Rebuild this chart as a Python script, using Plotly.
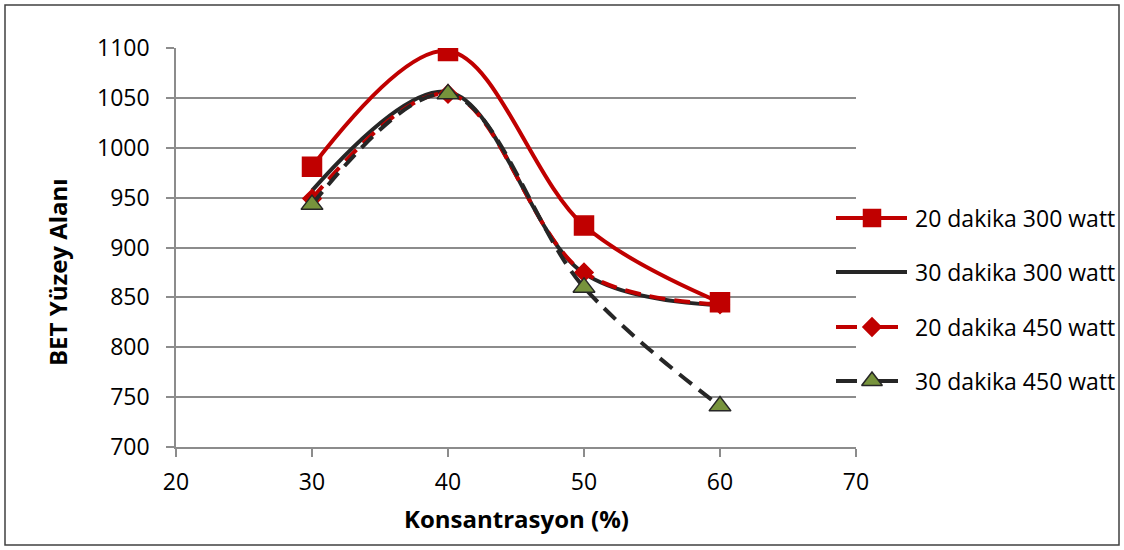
import plotly.graph_objects as go

# Concentration (%) on the x axis
konsantrasyon = [30, 40, 50, 60]

# BET surface area for each treatment
seri_20dk_300w = [981, 1097, 922, 845]
seri_30dk_300w = [957, 1056, 874, 842]
seri_20dk_450w = [949, 1054, 875, 843]
seri_30dk_450w = [943, 1054, 860, 741]

series_names = ["20 dakika 300 watt", "30 dakika 300 watt",
                "20 dakika 450 watt", "30 dakika 450 watt"]

x_ticks = [20, 30, 40, 50, 60, 70]
y_ticks = [700, 750, 800, 850, 900, 950, 1000, 1050, 1100]

RED = "#C00000"
DARK = "#262626"
GREEN = "#77933C"
GRID = "#8C8C8C"
FONT = "Open Sans"
TXT = 23

W, H = 1124, 550
# plot area in pixels
PL, PR, PT, PB = 176, 856, 48, 447

styles = [
    dict(color=RED, dash="solid", symbol="square", msize=19, lsize=17, mfill=RED, mline=RED),
    dict(color=DARK, dash="solid", symbol=None, msize=0, lsize=0, mfill=None, mline=None),
    dict(color=RED, dash="16px,9px", symbol="diamond", msize=14, lsize=14, mfill=RED, mline=RED),
    dict(color=DARK, dash="16px,9px", symbol="triangle-up", msize=19, lsize=18, mfill=GREEN, mline=DARK),
]
values = [seri_20dk_300w, seri_30dk_300w, seri_20dk_450w, seri_30dk_450w]

fig = go.Figure()

# draw order: solid black first, dashed lines, then the red square series
order = [1, 2, 3, 0]
for i in order:
    st = styles[i]
    trace = dict(
        x=konsantrasyon, y=values[i], name=series_names[i],
        line=dict(color=st["color"], width=4, dash=st["dash"], shape="spline", smoothing=1.0),
        showlegend=False, xaxis="x", yaxis="y",
    )
    if st["symbol"]:
        trace["mode"] = "lines+markers"
        trace["marker"] = dict(symbol=st["symbol"], size=st["msize"], color=st["mfill"],
                               line=dict(color=st["mline"], width=1.5))
    else:
        trace["mode"] = "lines"
    fig.add_trace(go.Scatter(**trace))

# custom legend on a pixel-space overlay axis
LEG_X0, LEG_X1, LEG_MID, LEG_TEXT = 836, 907, 872, 913
leg_y = [218, 272, 327, 381]
for i, st in enumerate(styles):
    yy = leg_y[i]
    if st["dash"] == "solid":
        fig.add_trace(go.Scatter(x=[LEG_X0, LEG_X1], y=[yy, yy], mode="lines",
                                 line=dict(color=st["color"], width=4),
                                 xaxis="x2", yaxis="y2", showlegend=False, hoverinfo="skip"))
    else:
        for seg in ([LEG_X0, 857], [876, 898]):
            fig.add_trace(go.Scatter(x=seg, y=[yy, yy], mode="lines",
                                     line=dict(color=st["color"], width=4),
                                     xaxis="x2", yaxis="y2", showlegend=False, hoverinfo="skip"))
    if st["symbol"]:
        fig.add_trace(go.Scatter(x=[LEG_MID], y=[yy], mode="markers",
                                 marker=dict(symbol=st["symbol"], size=st["lsize"], color=st["mfill"],
                                             line=dict(color=st["mline"], width=1.5)),
                                 xaxis="x2", yaxis="y2", showlegend=False, hoverinfo="skip"))
    fig.add_annotation(x=LEG_TEXT, y=yy, xref="x2", yref="y2", text=series_names[i],
                       showarrow=False, xanchor="left", yanchor="middle",
                       font=dict(family=FONT, size=TXT, color="#000000"))

fig.update_layout(
    template="none",
    width=W, height=H,
    margin=dict(l=0, r=0, t=0, b=0, pad=0, autoexpand=False),
    paper_bgcolor="white", plot_bgcolor="rgba(0,0,0,0)",
    showlegend=False,
    xaxis=dict(
        domain=[PL / W, PR / W], range=[20, 70], tickvals=x_ticks,
        showgrid=False, zeroline=False, automargin=False,
        showline=True, linecolor=GRID, linewidth=1.5,
        ticks="outside", ticklen=8, tickcolor=GRID, tickwidth=1.5,
        ticklabelstandoff=6,
        tickfont=dict(family=FONT, size=TXT, color="#000000"),
        anchor="y",
    ),
    yaxis=dict(
        domain=[1 - PB / H, 1 - PT / H], range=[700, 1100], tickvals=y_ticks,
        showgrid=True, gridcolor=GRID, gridwidth=1.5, zeroline=False, automargin=False,
        showline=True, linecolor=GRID, linewidth=1.5,
        ticks="outside", ticklen=8, tickcolor=GRID, tickwidth=1.5,
        ticklabelstandoff=12,
        tickfont=dict(family=FONT, size=TXT, color="#000000"),
        anchor="x",
    ),
    xaxis2=dict(domain=[0, 1], range=[0, W], visible=False, fixedrange=True,
                anchor="y2", automargin=False),
    yaxis2=dict(domain=[0, 1], range=[H, 0], visible=False, fixedrange=True,
                anchor="x2", automargin=False),
)

# axis titles
fig.add_annotation(x=516, y=518, xref="x2", yref="y2", text="<b>Konsantrasyon (%)</b>",
                   showarrow=False, font=dict(family=FONT, size=24, color="#000000"))
fig.add_annotation(x=57, y=272, xref="x2", yref="y2", text="<b>BET Yüzey Alanı</b>",
                   showarrow=False, textangle=-90, font=dict(family=FONT, size=24, color="#000000"))

# chart border
fig.add_shape(type="rect", xref="x2", yref="y2", x0=5, y0=5, x1=1119, y1=545,
              line=dict(color="#404040", width=1.5), fillcolor="rgba(0,0,0,0)", layer="below")

fig.write_html("out.html")
